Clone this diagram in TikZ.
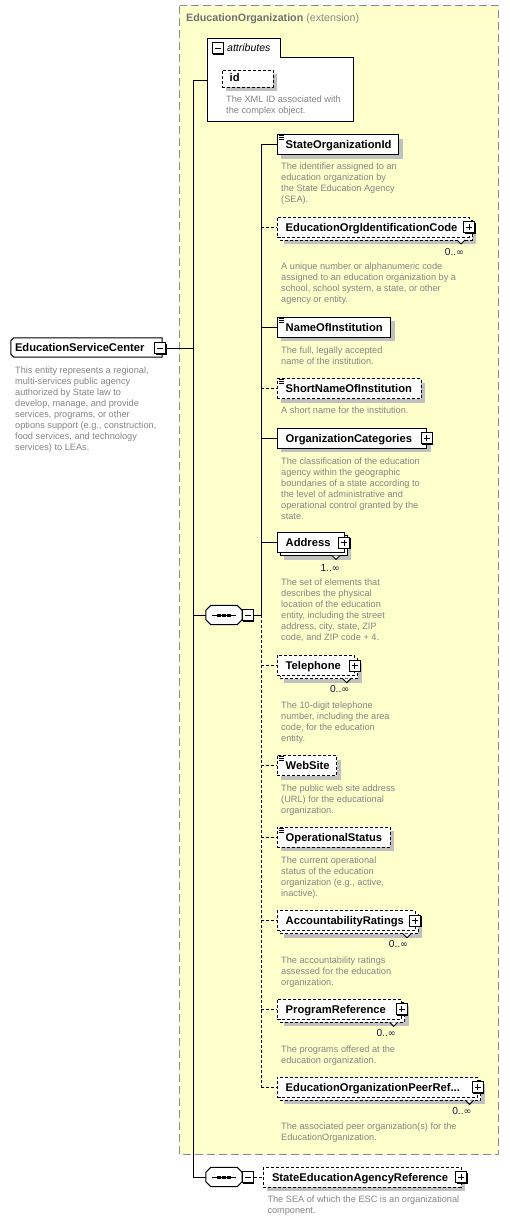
\documentclass[tikz,border=0pt]{standalone}
\usepackage{fontspec}
\setmainfont{Liberation Sans}
\newfontfamily\symf{DejaVu Sans}
\usetikzlibrary{calc}
\definecolor{ybg}{HTML}{FFFFCC}
\definecolor{ybd}{HTML}{8C8C8C}
\definecolor{dtx}{HTML}{858585}
\definecolor{shd}{HTML}{C0C0C0}
\definecolor{ttl}{HTML}{707070}
\definecolor{ext}{HTML}{8A8A8A}
\definecolor{mlt}{HTML}{1A1A40}
\newcommand\infsym{{\symf\fontsize{9.5}{11}\selectfont ∞}}
\tikzset{
  ebox/.style={draw, fill=white, minimum height=20, inner sep=0, line width=1pt},
  opt/.style={dash pattern=on 3pt off 2pt},
  nm/.style={font=\fontsize{11.2}{13}\selectfont\bfseries, inner sep=0, anchor=west, text height=8, text depth=0},
  ds/.style={font=\fontsize{9.2}{11}\selectfont, text=dtx, inner sep=0, anchor=north west, align=left},
  ml/.style={font=\fontsize{10.2}{11}\selectfont, text=mlt, inner sep=0, anchor=east},
  pmbox/.style={draw, fill=white, minimum size=11, inner sep=0, line width=1pt},
  con/.style={line width=1pt},
}
\newcommand\pmb[4]{%
  \fill[black] (#2-4.5,#3-4.5) rectangle (#2+6.6,#3+6.6);
  \node[pmbox] (#1) at (#2,#3) {};
  \draw[line width=0.9pt] ($(#1.center)+(-3,0)$) -- ($(#1.center)+(3,0)$);
  \if p#4\draw[line width=0.9pt] ($(#1.center)+(0,-3)$) -- ($(#1.center)+(0,3)$);\fi
}
\newcommand\elem[7]{%
  \if s#6
    \fill[shd] (#2+7,#3-3) rectangle (#4+7,#3+17);
    \draw[fill=white,line width=1pt,#5] (#2+3,#3-7) rectangle (#4+3,#3+13);
    \draw[fill=white,line width=1pt] (#4-12,#3+13) -- (#4-8,#3+17) -- (#4-4,#3+13);
  \else
    \fill[shd] (#2+4,#3-6) rectangle (#4+4,#3+14);
  \fi
  \node[ebox,#5,minimum width={#4-#2}] (#1) at ({(#2+#4)/2},#3) {};
  \node[nm] (#1t) at ($(#1.west)+(9,0)$) {#7};
}
\newcommand\simp[1]{%
  \foreach \k in {1.5,3.5,5.5} \draw[line width=0.7pt] ($(#1.north west)+(2,\k)$) -- ++(5,0);
}
\newcommand\seqsym[1]{%
  \fill[shd,shift={(4,4)}] ($(#1.north west)+(5,0)$) -- ($(#1.north east)+(-5,0)$) -- ($(#1.north east)+(0,5)$) -- ($(#1.south east)+(0,-5)$) -- ($(#1.south east)+(-5,0)$) -- ($(#1.south west)+(5,0)$) -- ($(#1.south west)+(0,-5)$) -- ($(#1.north west)+(0,5)$) -- cycle;
  \draw[fill=white,line width=1pt] ($(#1.north west)+(5,0)$) -- ($(#1.north east)+(-5,0)$) -- ($(#1.north east)+(0,5)$) -- ($(#1.south east)+(0,-5)$) -- ($(#1.south east)+(-5,0)$) -- ($(#1.south west)+(5,0)$) -- ($(#1.south west)+(0,-5)$) -- ($(#1.north west)+(0,5)$) -- cycle;
  \draw[line width=1pt] ($(#1.center)+(-12,0)$) -- ($(#1.center)+(12,0)$);
  \foreach \d in {-5,0,5} \fill ($(#1.center)+(\d-1.7,-1.5)$) rectangle +(3.4,3);
}
\begin{document}
\begin{tikzpicture}[x=1pt,y=-1pt]
\useasboundingbox (0,0) rectangle (509,1221);
\fill[white] (0,0) rectangle (509,1221);
% extension box
\draw[fill=ybg, draw=ybd, line width=1pt, dash pattern=on 8pt off 4pt] (179.5,5.5) rectangle (498.5,1154);
\node[font=\fontsize{10.7}{12}\selectfont, text=ttl, anchor=west, inner sep=0] (title) at (186,18.5) {\textbf{EducationOrganization} \textcolor{ext}{(extension)}};
% attributes
\draw[fill=white, line width=1pt] (207,121) -- (207,38) -- (280,38) -- (280,57) -- (353,57) -- (353,121) -- cycle;
\coordinate (attrin) at (207,80);
\pmb{attrm}{217.5}{48}{m}
\node[font=\fontsize{10.5}{12}\selectfont\itshape, anchor=west, inner sep=0] (attrt) at (227,48) {attributes};
\fill[shd] (226,74) rectangle (277,91);
\node[ebox,opt,minimum width=51,minimum height=17] (id) at (247.5,78.5) {};
\node[nm] (idt) at ($(id.west)+(8,-1)$) {id};
\node[ds] (idd) at (226,95.3) {The XML ID associated with\\the complex object.};
% root element
\node[minimum width=151, minimum height=19, inner sep=0] (esc) at (86.5,347.5) {};
\fill[shd,shift={(4,4)}] ($(esc.north west)+(3,0)$) -- (esc.north east) -- (esc.south east) -- ($(esc.south west)+(3,0)$) -- ($(esc.south west)+(0,-3)$) -- ($(esc.north west)+(0,3)$) -- cycle;
\draw[fill=white,line width=1pt] ($(esc.north west)+(3,0)$) -- (esc.north east) -- (esc.south east) -- ($(esc.south west)+(3,0)$) -- ($(esc.south west)+(0,-3)$) -- ($(esc.north west)+(0,3)$) -- cycle;
\node[nm] (esct) at ($(esc.west)+(4,0)$) {EducationServiceCenter};
\pmb{escm}{160}{348}{m}
\node[ds] (escd) at (15,366.3) {This entity represents a regional,\\multi-services public agency\\authorized by State law to\\develop, manage, and provide\\services, programs, or other\\options support (e.g., construction,\\food services, and technology\\services) to LEAs.};
% sequences
\node[minimum width=36, minimum height=19, inner sep=0] (s1) at (224,615) {};
\seqsym{s1}
\pmb{s1m}{247.5}{615}{m}
\node[minimum width=36, minimum height=19, inner sep=0] (s2) at (224,1177) {};
\seqsym{s2}
\pmb{s2m}{247.5}{1177}{m}
% children
\elem{soi}{277}{144.5}{398.7}{}{n}{StateOrganizationId}
\simp{soi}
\node[ds] (soid) at (281,162.3) {The identifier assigned to an\\education organization by\\the State Education Agency\\(SEA).};
\elem{eoic}{277}{227}{469}{opt}{s}{EducationOrgIdentificationCode}
\pmb{eoicp}{469}{227}{p}
\node[ml] (eoicm) at (464.3,252) {0..\infsym};
\node[ds] (eoicd) at (281,263) {A unique number or alphanumeric code\\assigned to an education organization by a\\school, school system, a state, or other\\agency or entity.};
\elem{noi}{277}{327.3}{390.7}{}{n}{NameOfInstitution}
\simp{noi}
\node[ds] (noid) at (281,346.3) {The full, legally accepted\\name of the institution.};
\elem{snoi}{277}{388.7}{421}{opt}{n}{ShortNameOfInstitution}
\simp{snoi}
\node[ds] (snoid) at (281,407) {A short name for the institution.};
\elem{oc}{277}{438.3}{426.5}{}{n}{OrganizationCategories}
\pmb{ocp}{426.5}{438.3}{p}
\node[ds] (ocd) at (281,457.3) {The classification of the education\\agency within the geographic\\boundaries of a state according to\\the level of administrative and\\operational control granted by the\\state.};
\elem{addr}{277}{542.5}{344}{}{s}{Address}
\pmb{addrp}{344}{542.5}{p}
\node[ml] (addrm) at (340,567.7) {1..\infsym};
\node[ds] (addrd) at (281,579) {The set of elements that\\describes the physical\\location of the education\\entity, including the street\\address, city, state, ZIP\\code, and ZIP code + 4.};
\elem{tel}{277}{665.7}{354.7}{opt}{s}{Telephone}
\pmb{telp}{354.7}{665.7}{p}
\node[ml] (telm) at (349.5,688.5) {0..\infsym};
\node[ds] (teld) at (281,701.3) {The 10-digit telephone\\number, including the area\\code, for the education\\entity.};
\elem{web}{277}{765.7}{336.7}{opt}{n}{WebSite}
\simp{web}
\node[ds] (webd) at (281,784.6) {The public web site address\\(URL) for the educational\\organization.};
\elem{ops}{277}{837.3}{390}{opt}{n}{OperationalStatus}
\simp{ops}
\node[ds] (opsd) at (281,856.3) {The current operational\\status of the education\\organization (e.g., active,\\inactive).};
\elem{ar}{277}{920.7}{415}{opt}{s}{AccountabilityRatings}
\pmb{arp}{415}{920.7}{p}
\node[ml] (arm) at (408.3,944) {0..\infsym};
\node[ds] (ard) at (281,956.3) {The accountability ratings\\assessed for the education\\organization.};
\elem{pr}{277}{1009.3}{401.7}{opt}{s}{ProgramReference}
\pmb{prp}{401.7}{1009.3}{p}
\node[ml] (prm) at (396,1033.3) {0..\infsym};
\node[ds] (prd) at (281,1045.3) {The programs offered at the\\education organization.};
\elem{peer}{277}{1087.3}{477.5}{opt}{s}{EducationOrganizationPeerRef...}
\pmb{peerp}{477.5}{1087.3}{p}
\node[ml] (peerm) at (471.7,1111) {0..\infsym};
\node[ds] (peerd) at (281,1123) {The associated peer organization(s) for the\\EducationOrganization.};
\elem{sear}{263.3}{1177}{461}{opt}{n}{StateEducationAgencyReference}
\pmb{searp}{461}{1177}{p}
\node[ds] (seard) at (267.3,1195.6) {The SEA of which the ESC is an organizational\\component.};
% connectors
\coordinate (mx) at (193,0);
\coordinate (vx) at (261,0);
\draw[con] (attrin) -- (attrin -| mx) -- (mx |- s2.west) -- (s2.west);
\draw[con] (escm.east) -- (escm.east -| mx);
\draw[con] (mx |- s1.west) -- (s1.west);
\draw[con] (s1m.east) -- (s1m.east -| vx);
\draw[con] (vx |- soi.west) -- (vx |- s1m.east);
\draw[con,opt] (vx |- s1m.east) -- (vx |- peer.west);
\draw[con] (vx |- soi.west) -- (soi.west);
\draw[con,opt] (vx |- eoic.west) -- (eoic.west);
\draw[con] (vx |- noi.west) -- (noi.west);
\draw[con,opt] (vx |- snoi.west) -- (snoi.west);
\draw[con] (vx |- oc.west) -- (oc.west);
\draw[con] (vx |- addr.west) -- (addr.west);
\draw[con,opt] (vx |- tel.west) -- (tel.west);
\draw[con,opt] (vx |- web.west) -- (web.west);
\draw[con,opt] (vx |- ops.west) -- (ops.west);
\draw[con,opt] (vx |- ar.west) -- (ar.west);
\draw[con,opt] (vx |- pr.west) -- (pr.west);
\draw[con,opt] (vx |- peer.west) -- (peer.west);
\draw[con,opt] (s2m.east) -- (sear.west);
\end{tikzpicture}
\end{document}
